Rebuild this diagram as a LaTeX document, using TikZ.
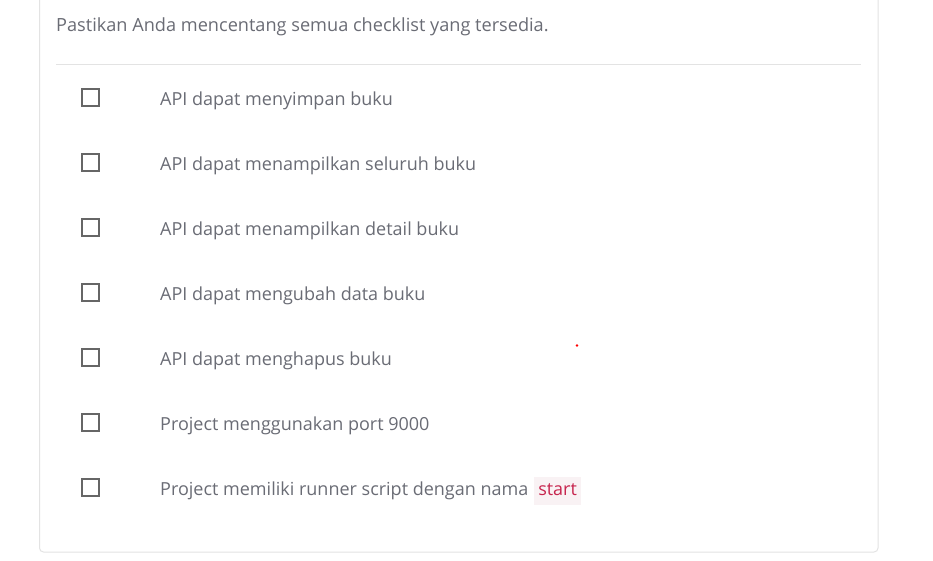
\documentclass[tikz,border=0pt]{standalone}
\usepackage{fontspec}
\setmainfont{Open Sans}
\definecolor{txtgray}{HTML}{6A6C75}
\definecolor{boxgray}{HTML}{666666}
\definecolor{linegray}{HTML}{E3E3E3}
\definecolor{codered}{HTML}{C7254E}
\definecolor{codebg}{HTML}{F9F2F4}
\tikzset{
  checkbox/.style={draw=boxgray, line width=2pt, minimum size=17.5pt, inner sep=0pt},
  itemtext/.style={anchor=base west, inner sep=0pt, text=txtgray, font=\fontsize{18}{22}\selectfont},
  codetext/.style={anchor=base west, fill=codebg, text=codered, inner xsep=4pt, inner ysep=5.5pt,
    text height=12.5pt, text depth=4pt, font=\fontsize{18}{22}\selectfont}
}
\begin{document}
\begin{tikzpicture}[x=1pt, y=-1pt]
	\useasboundingbox (0,0) rectangle (933,560);
	\fill[white] (0,0) rectangle (933,560);

	% card
	\draw[linegray, line width=1pt, rounded corners=4pt] (39.5,-10) -- (39.5,552) -- (878,552) -- (878,-10);

	\node[itemtext, font=\fontsize{18.15}{22}\selectfont] (intro) at (56,31.5) {Pastikan Anda mencentang semua checklist yang tersedia.};
	\draw[linegray, line width=1pt] (56,64) -- (861,64);

	\node[checkbox] (box1) at (90.5,97.5) {};
	\node[itemtext] (item1) at (160,105) {API dapat menyimpan buku};

	\node[checkbox] (box2) at (90.5,162.5) {};
	\node[itemtext] (item2) at (160,170) {API dapat menampilkan seluruh buku};

	\node[checkbox] (box3) at (90.5,227.5) {};
	\node[itemtext] (item3) at (160,235) {API dapat menampilkan detail buku};

	\node[checkbox] (box4) at (90.5,292.5) {};
	\node[itemtext] (item4) at (160,300) {API dapat mengubah data buku};

	\node[checkbox] (box5) at (90.5,357.5) {};
	\node[itemtext] (item5) at (160,365) {API dapat menghapus buku};

	\node[checkbox] (box6) at (90.5,422.5) {};
	\node[itemtext] (item6) at (160,430) {Project menggunakan port 9000};

	\node[checkbox] (box7) at (90.5,487.5) {};
	\node[itemtext] (item7) at (160,495) {Project memiliki runner script dengan nama};
	\node[codetext, xshift=5.5pt] (code) at (item7.base east) {start};

	\fill[red] (577,345.5) circle [radius=1.3];
\end{tikzpicture}
\end{document}
